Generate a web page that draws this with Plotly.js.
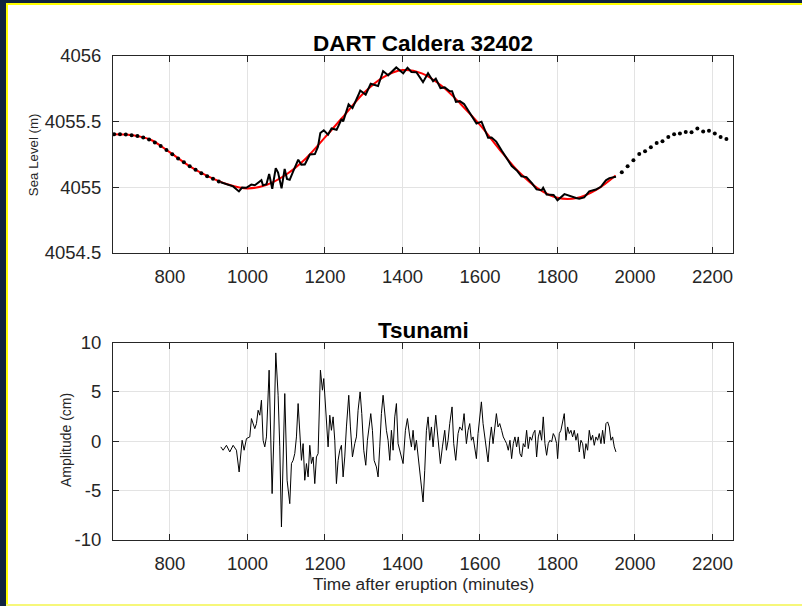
<!DOCTYPE html>
<html>
<head>
<meta charset="utf-8">
<script src="https://cdn.plot.ly/plotly-3.0.1.min.js"></script>
<style>
  html, body { margin: 0; padding: 0; background: #ffffff; }
  #wrap { position: relative; width: 802px; height: 606px; overflow: hidden; }
  #chart { position: absolute; left: 0; top: 0; width: 802px; height: 606px; }
  .fr { position: absolute; pointer-events: none; }
</style>
</head>
<body>
<div id="wrap">
  <div id="chart"></div>
  <div class="fr" style="left:0;top:0;width:6px;height:606px;background:#10233f;"></div>
  <div class="fr" style="left:0;top:0;width:802px;height:3px;background:#10233f;"></div>
  <div class="fr" style="left:6px;top:3px;width:2px;height:603px;background:#ffff00;"></div>
  <div class="fr" style="left:6px;top:3px;width:796px;height:2px;background:#ffff00;"></div>
  <div class="fr" style="left:6px;top:604px;width:796px;height:2px;background:#f6f77a;"></div>
</div>
<script>
// ---------- DATA ----------
// Fitted tide (red), minutes after eruption / sea level (m)
const tideTime = [653, 700, 750, 800, 850, 900, 950, 1000, 1050, 1100, 1150, 1200, 1250, 1300, 1350, 1400, 1450, 1500, 1550, 1600, 1650, 1700, 1750, 1800, 1850, 1900, 1950];
const tideLevel = [4055.405, 4055.398, 4055.362, 4055.266, 4055.162, 4055.082, 4055.022, 4054.992, 4055.020, 4055.098, 4055.218, 4055.380, 4055.548, 4055.718, 4055.838, 4055.893, 4055.868, 4055.775, 4055.635, 4055.475, 4055.290, 4055.118, 4054.990, 4054.920, 4054.918, 4054.980, 4055.090];

// 15-min samples before the event (black dots)
const dotsBeforeTime = [656, 671, 686, 701, 716, 731, 746, 761, 776, 791, 806, 821, 836, 851, 866, 881, 896, 911, 926];
const dotsBeforeLevel = [4055.405, 4055.405, 4055.402, 4055.397, 4055.390, 4055.380, 4055.365, 4055.342, 4055.315, 4055.285, 4055.252, 4055.220, 4055.190, 4055.160, 4055.133, 4055.108, 4055.085, 4055.065, 4055.045];

// 15-min samples after the event (black dots)
const dotsAfterTime = [1966, 1981, 1996, 2011, 2026, 2041, 2056, 2071, 2086, 2101, 2116, 2131, 2146, 2161, 2176, 2191, 2206, 2221, 2236];
const dotsAfterLevel = [4055.114, 4055.160, 4055.206, 4055.254, 4055.274, 4055.305, 4055.338, 4055.350, 4055.383, 4055.404, 4055.409, 4055.421, 4055.419, 4055.447, 4055.426, 4055.431, 4055.409, 4055.383, 4055.368];

// High-rate observed sea level during the event (black line)
const obsTime = [931, 946, 963, 978, 986, 997, 1010, 1019, 1028, 1036, 1040, 1049, 1056, 1064, 1073, 1079, 1088, 1096, 1102, 1109, 1118, 1131, 1139, 1148, 1161, 1174, 1182, 1188, 1197, 1208, 1217, 1230, 1243, 1247, 1261, 1271, 1286, 1291, 1305, 1318, 1337, 1350, 1363, 1384, 1402, 1413, 1423, 1436, 1453, 1466, 1479, 1486, 1498, 1509, 1522, 1528, 1538, 1548, 1559, 1569, 1578, 1591, 1604, 1612, 1621, 1630, 1642, 1656, 1669, 1682, 1695, 1707, 1720, 1734, 1746, 1759, 1763, 1772, 1790, 1800, 1818, 1835, 1848, 1856, 1869, 1882, 1899, 1912, 1925, 1934, 1946, 1951];
const obsLevel = [4055.039, 4055.023, 4055.007, 4054.969, 4054.998, 4054.996, 4055.021, 4055.016, 4055.039, 4055.054, 4055.015, 4055.023, 4055.101, 4054.989, 4055.146, 4055.112, 4054.992, 4055.140, 4055.063, 4055.057, 4055.122, 4055.210, 4055.173, 4055.174, 4055.250, 4055.253, 4055.309, 4055.413, 4055.434, 4055.401, 4055.448, 4055.438, 4055.520, 4055.502, 4055.632, 4055.603, 4055.701, 4055.737, 4055.706, 4055.789, 4055.771, 4055.885, 4055.853, 4055.913, 4055.869, 4055.911, 4055.878, 4055.876, 4055.801, 4055.869, 4055.808, 4055.828, 4055.756, 4055.761, 4055.732, 4055.732, 4055.650, 4055.656, 4055.634, 4055.585, 4055.546, 4055.486, 4055.500, 4055.435, 4055.377, 4055.379, 4055.348, 4055.280, 4055.223, 4055.162, 4055.129, 4055.084, 4055.078, 4055.032, 4054.984, 4054.978, 4054.996, 4054.945, 4054.942, 4054.902, 4054.948, 4054.930, 4054.919, 4054.914, 4054.923, 4054.969, 4054.983, 4055.004, 4055.053, 4055.070, 4055.075, 4055.081];

// Tsunami amplitude (cm)
const tsuTime = [931.2, 937.2, 945.8, 954.4, 963.0, 971.6, 978.5, 986.2, 991.4, 997.4, 1006.0, 1010.3, 1018.9, 1023.2, 1027.5, 1031.8, 1036.1, 1040.4, 1044.7, 1049.0, 1055.9, 1063.6, 1067.9, 1073.1, 1079.1, 1083.4, 1087.7, 1092.0, 1096.3, 1102.3, 1109.2, 1113.5, 1117.8, 1122.1, 1126.4, 1130.7, 1135.0, 1139.3, 1143.6, 1147.9, 1152.2, 1156.5, 1160.8, 1165.1, 1169.4, 1173.7, 1178.0, 1182.3, 1188.3, 1193.5, 1196.9, 1202.1, 1208.1, 1212.4, 1216.7, 1221.0, 1225.3, 1229.6, 1233.9, 1238.2, 1242.5, 1246.8, 1251.1, 1255.4, 1261.4, 1265.7, 1270.9, 1276.9, 1281.2, 1285.5, 1290.7, 1295.0, 1300.1, 1305.3, 1309.6, 1313.9, 1318.2, 1322.5, 1326.8, 1332.8, 1337.1, 1341.4, 1345.7, 1350.0, 1354.3, 1358.6, 1362.9, 1367.2, 1371.5, 1375.8, 1380.1, 1384.4, 1388.7, 1393.0, 1397.3, 1401.6, 1407.6, 1412.8, 1418.8, 1423.1, 1427.4, 1431.7, 1436.0, 1440.3, 1444.6, 1448.9, 1453.2, 1457.5, 1461.8, 1466.1, 1470.4, 1474.7, 1479.0, 1485.9, 1491.9, 1497.9, 1503.1, 1509.1, 1513.4, 1517.7, 1522.0, 1528.0, 1532.3, 1537.5, 1543.5, 1547.8, 1553.8, 1559.0, 1565.0, 1569.3, 1573.6, 1577.9, 1582.2, 1586.5, 1590.8, 1595.1, 1599.4, 1603.7, 1608.0, 1612.3, 1616.6, 1620.9, 1625.2, 1629.5, 1633.8, 1638.1, 1642.4, 1646.7, 1651.0, 1655.9, 1660.2, 1664.5, 1668.8, 1673.1, 1677.4, 1681.7, 1686.0, 1690.3, 1694.6, 1698.9, 1703.2, 1707.5, 1711.8, 1716.1, 1720.4, 1724.7, 1729.0, 1733.3, 1737.6, 1741.9, 1746.2, 1750.5, 1754.8, 1759.1, 1763.4, 1767.7, 1772.0, 1776.3, 1780.6, 1784.9, 1789.2, 1793.5, 1797.8, 1800.4, 1804.7, 1809.0, 1813.3, 1817.6, 1821.9, 1826.2, 1830.5, 1834.8, 1839.1, 1843.4, 1847.7, 1852.0, 1856.3, 1860.6, 1864.9, 1869.2, 1873.5, 1877.8, 1882.1, 1886.4, 1890.7, 1895.0, 1899.3, 1903.6, 1907.9, 1912.2, 1916.5, 1920.8, 1925.1, 1929.4, 1933.7, 1938.0, 1942.3, 1946.6, 1950.9];
const tsuAmp = [-0.57, -0.91, -0.41, -1.08, -0.41, -0.91, -3.11, 0.10, -0.91, 0.27, 0.44, 2.30, 1.28, 1.79, 3.14, 2.64, 4.16, 0.10, -0.57, 0.44, 7.20, -5.30, 0.10, 8.95, 4.66, -0.57, -8.68, -2.94, 4.83, -3.95, -6.32, -2.26, -1.93, -1.25, 0.44, 3.82, 1.45, -1.93, -0.24, -3.95, -2.26, -3.61, -0.41, -2.26, -1.59, -4.29, -1.59, -1.25, 7.20, 5.17, 6.35, 2.47, -0.57, 2.64, 1.11, 2.47, 0.10, -4.29, -1.93, -0.91, -0.41, -3.61, -1.59, 1.45, 4.66, 1.45, -1.59, -0.24, 0.44, 3.14, 5.00, 2.80, -0.91, -2.43, 0.10, 1.45, 2.80, 1.11, -1.93, -2.60, -3.61, -0.57, 2.80, 4.66, 2.80, 1.11, 0.10, -1.93, 1.11, -0.91, 2.47, 3.82, -0.24, -0.91, -1.59, -2.26, 1.11, 2.30, 0.44, -0.57, 1.11, -0.91, 0.10, -1.59, -2.60, -4.29, -6.15, -2.94, 1.11, 2.47, 0.10, 1.45, -0.57, 2.64, -0.24, -2.26, -0.57, 1.11, -0.91, 0.10, 1.79, 3.48, -0.24, -1.93, 0.78, 1.45, 1.11, 2.80, -0.24, 1.11, 1.79, 0.10, 0.44, -0.91, -1.76, 0.78, 2.80, 3.99, 1.79, 0.44, -1.25, -2.09, 0.10, 1.45, -0.24, 1.45, 2.80, 1.45, 1.79, 1.11, 0.44, 0.10, -0.24, -0.91, 0.10, -1.76, -0.24, 0.44, -0.57, 0.44, -1.25, -1.59, -0.24, -0.57, 1.11, -0.74, 0.44, 0.10, 0.78, 1.11, -1.59, 0.44, 1.11, 0.10, 2.47, -0.24, -1.42, -0.24, 0.10, -0.07, 0.78, 0.44, -0.24, -1.76, 0.78, 1.11, 2.13, 2.80, 0.10, 1.45, 0.78, 1.11, 0.44, 1.11, 0.10, 0.78, -1.08, 0.10, -0.24, -1.76, -0.24, -0.91, 1.11, 0.10, 0.61, -0.41, 0.44, 0.10, 0.78, -0.24, 1.11, -0.24, 1.79, 1.96, 1.45, 0.10, 0.44, -0.57, -1.08];

// Tick labels
const xTickVals = [800, 1000, 1200, 1400, 1600, 1800, 2000, 2200];
const xTickText = ["800", "1000", "1200", "1400", "1600", "1800", "2000", "2200"];
const seaTickVals = [4054.5, 4055, 4055.5, 4056];
const seaTickText = ["4054.5", "4055", "4055.5", "4056"];
const ampTickVals = [-10, -5, 0, 5, 10];
const ampTickText = ["-10", "-5", "0", "5", "10"];

// Texts
const mainTitle = "DART Caldera 32402";
const subTitle = "Tsunami";
const seaLabel = "Sea Level (m)";
const ampLabel = "Amplitude (cm)";
const timeLabel = "Time after eruption (minutes)";

// ---------- CHART ----------
const FONT = "Liberation Sans, Arial, Helvetica, sans-serif";
const AX = "#262626";
const GRID = "#e3e3e3";
const TICKSIZE = 18.5;

const traces = [
  { x: tideTime, y: tideLevel, type: "scatter", mode: "lines", xaxis: "x", yaxis: "y",
    line: { color: "#ff0000", width: 2, shape: "spline" }, hoverinfo: "skip" },
  { x: obsTime, y: obsLevel, type: "scatter", mode: "lines", xaxis: "x", yaxis: "y",
    line: { color: "#000000", width: 2 }, hoverinfo: "skip" },
  { x: dotsBeforeTime, y: dotsBeforeLevel, type: "scatter", mode: "markers", xaxis: "x", yaxis: "y",
    marker: { color: "#000000", size: 4 }, hoverinfo: "skip" },
  { x: dotsAfterTime, y: dotsAfterLevel, type: "scatter", mode: "markers", xaxis: "x", yaxis: "y",
    marker: { color: "#000000", size: 4 }, hoverinfo: "skip" },
  { x: tsuTime, y: tsuAmp, type: "scatter", mode: "lines", xaxis: "x2", yaxis: "y2",
    line: { color: "#000000", width: 1 }, hoverinfo: "skip" }
];

function xAxis(anchor) {
  return {
    anchor: anchor, range: [653, 2253], autorange: false,
    tickmode: "array", tickvals: xTickVals, ticktext: xTickText,
    ticks: "inside", ticklen: 6, tickcolor: AX, tickwidth: 1,
    showline: true, linecolor: AX, linewidth: 1, mirror: "ticks",
    showgrid: true, gridcolor: GRID, gridwidth: 1, zeroline: false,
    tickfont: { family: FONT, size: TICKSIZE, color: AX }, ticklabelstandoff: 7
  };
}
function yAxis(anchor, domain, range, vals, text) {
  return {
    anchor: anchor, domain: domain, range: range, autorange: false,
    tickmode: "array", tickvals: vals, ticktext: text,
    ticks: "inside", ticklen: 6, tickcolor: AX, tickwidth: 1,
    showline: true, linecolor: AX, linewidth: 1, mirror: "ticks",
    showgrid: true, gridcolor: GRID, gridwidth: 1, zeroline: false,
    tickfont: { family: FONT, size: TICKSIZE, color: AX }, ticklabelstandoff: 7
  };
}

const layout = {
  width: 802, height: 606,
  margin: { l: 113, r: 69, t: 56, b: 66, pad: 0 },
  paper_bgcolor: "#ffffff", plot_bgcolor: "#ffffff",
  showlegend: false,
  xaxis: xAxis("y"),
  yaxis: yAxis("x", [0.593, 1], [4054.5, 4056], seaTickVals, seaTickText),
  xaxis2: xAxis("y2"),
  yaxis2: yAxis("x2", [0, 0.408], [-10, 10], ampTickVals, ampTickText),
  annotations: [
    { text: "<b>" + mainTitle + "</b>", xref: "paper", yref: "paper", x: 0.5, xanchor: "center", y: 1, yanchor: "middle", yshift: 13,
      showarrow: false, font: { family: FONT, size: 22.5, color: "#000000" } },
    { text: "<b>" + subTitle + "</b>", xref: "paper", yref: "paper", x: 0.5, xanchor: "center", y: 0.408, yanchor: "middle", yshift: 12.5,
      showarrow: false, font: { family: FONT, size: 22.5, color: "#000000" } },
    { text: seaLabel, xref: "paper", yref: "paper", x: 0, xanchor: "center", xshift: -80, y: 0.795, yanchor: "middle", textangle: -90,
      showarrow: false, font: { family: FONT, size: 13.3, color: AX } },
    { text: ampLabel, xref: "paper", yref: "paper", x: 0, xanchor: "center", xshift: -47, y: 0.2066, yanchor: "middle", textangle: -90,
      showarrow: false, font: { family: FONT, size: 14, color: AX } },
    { text: timeLabel, xref: "paper", yref: "paper", x: 0.5, xanchor: "center", y: 0, yanchor: "middle", yshift: -44,
      showarrow: false, font: { family: FONT, size: 17.3, color: AX } }
  ]
};

Plotly.newPlot("chart", traces, layout, { staticPlot: true, displayModeBar: false });
</script>
</body>
</html>
